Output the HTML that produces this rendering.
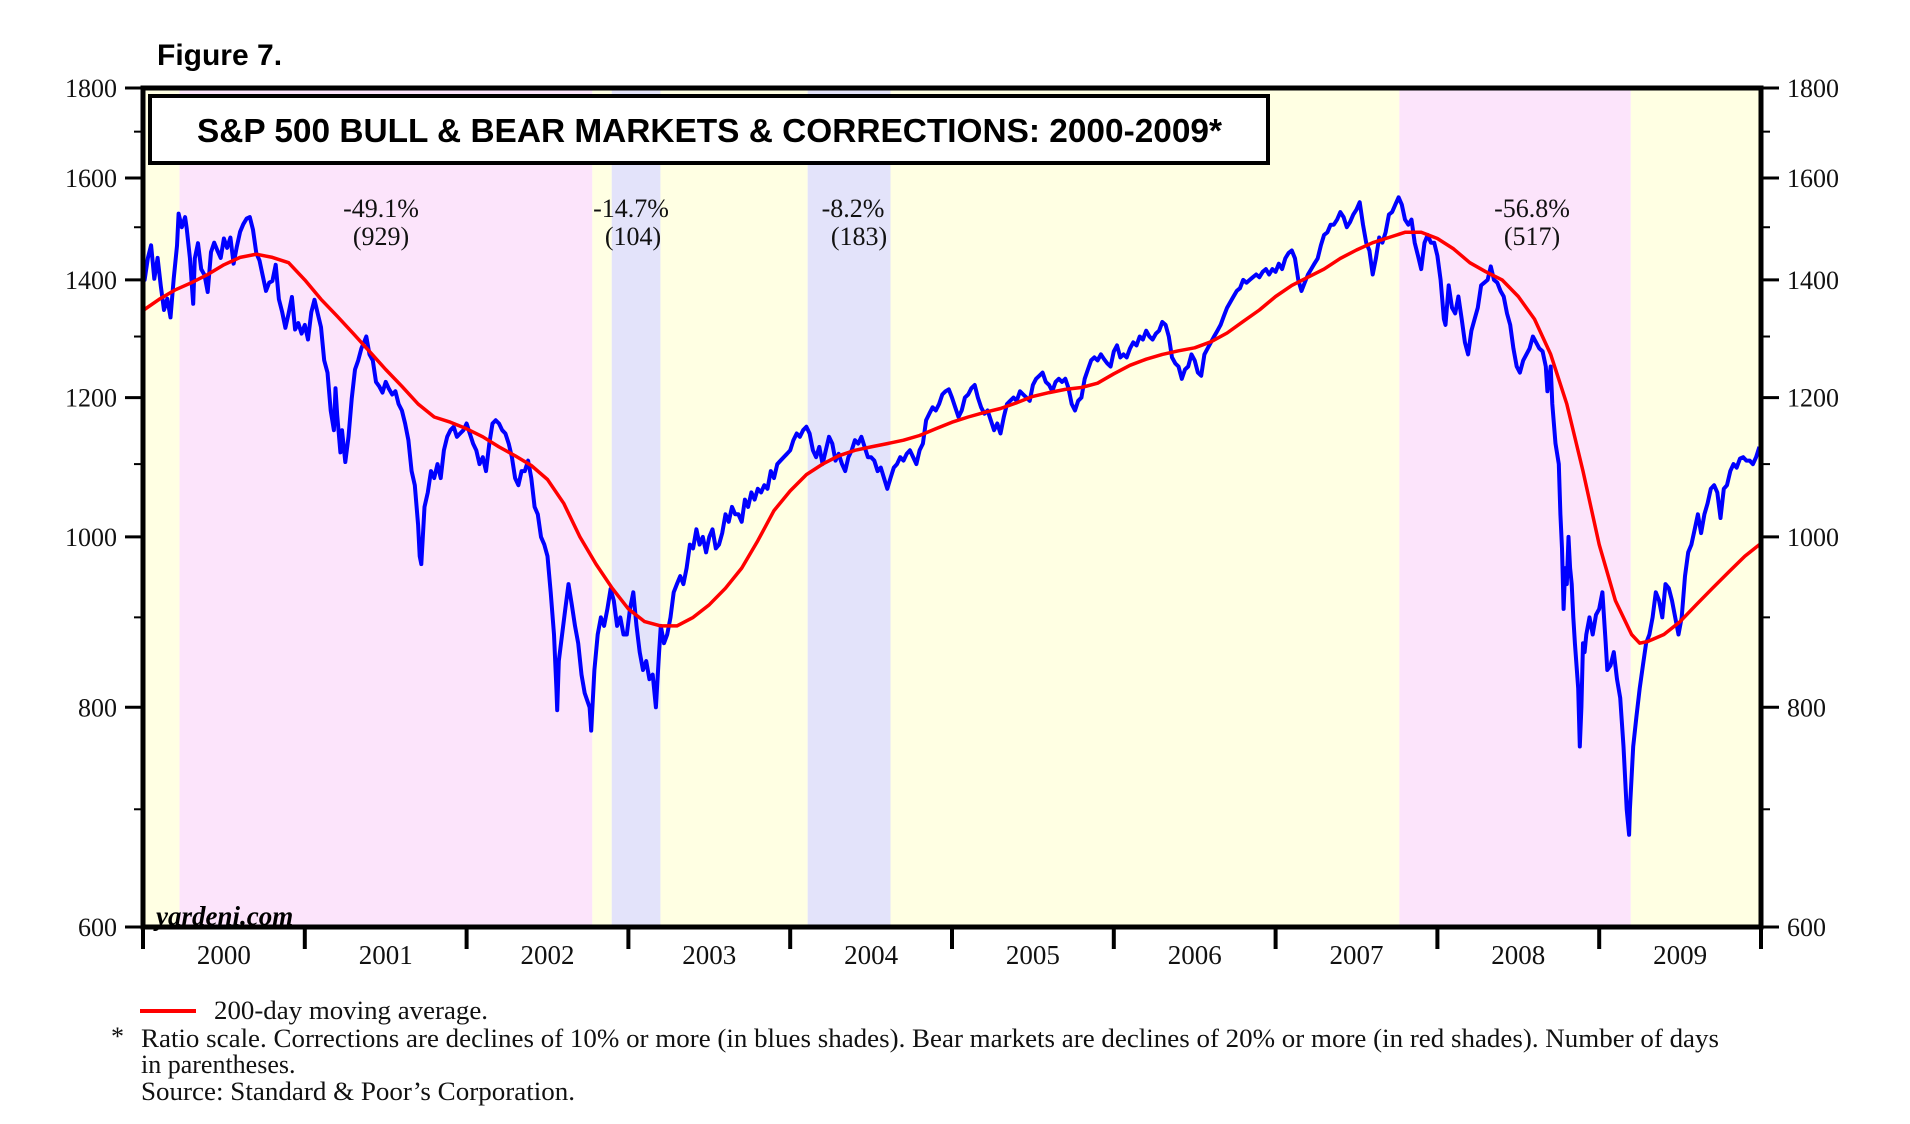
<!DOCTYPE html>
<html><head><meta charset="utf-8"><style>
html,body{margin:0;padding:0;background:#fff;}
svg{display:block;}
.ser{font-family:"Liberation Serif",serif;}
.san{font-family:"Liberation Sans",sans-serif;}
</style></head><body>
<svg id="chart" width="1910" height="1124" viewBox="0 0 1910 1124" xmlns="http://www.w3.org/2000/svg">
<g id="bands"></g>
<g id="ticks"></g>
<g id="lines"></g>
<rect x="150" y="96" width="1118" height="67" fill="#fff" stroke="#000" stroke-width="4"/>
<text x="197" y="142" class="san" font-weight="bold" font-size="33" textLength="1025" lengthAdjust="spacingAndGlyphs">S&amp;P 500 BULL &amp; BEAR MARKETS &amp; CORRECTIONS: 2000-2009*</text>
<text x="157" y="65" class="san" font-weight="bold" font-size="30">Figure 7.</text>
<g class="ser" font-size="26" text-anchor="middle" fill="#111">
<text x="381" y="217">-49.1%</text>
<text x="381" y="245">(929)</text>
<text x="631" y="217">-14.7%</text>
<text x="633" y="245">(104)</text>
<text x="853" y="217">-8.2%</text>
<text x="859" y="245">(183)</text>
<text x="1532" y="217">-56.8%</text>
<text x="1532" y="245">(517)</text>
</g>
<text x="156" y="925" class="ser" font-size="27" font-weight="bold" font-style="italic">yardeni.com</text>
<line x1="140" y1="1011" x2="196" y2="1011" stroke="#f00" stroke-width="4"/>
<g class="ser" font-size="26" fill="#111">
<text x="214" y="1019" textLength="274" lengthAdjust="spacingAndGlyphs">200-day moving average.</text>
<text x="111" y="1045">*</text>
<text x="141" y="1047" textLength="1578" lengthAdjust="spacingAndGlyphs">Ratio scale. Corrections are declines of 10% or more (in blues shades). Bear markets are declines of 20% or more (in red shades). Number of days</text>
<text x="141" y="1073">in parentheses.</text>
<text x="141" y="1100" textLength="434" lengthAdjust="spacingAndGlyphs">Source: Standard &amp; Poor’s Corporation.</text>
</g>
</svg>
<script>
const bandStarts=[2000.0,2000.226,2002.777,2002.897,2003.198,2004.108,2004.62,2007.765,2009.195];
const bandEnds=[2000.226,2002.777,2002.897,2003.198,2004.108,2004.62,2007.765,2009.195,2010.0];
const bandKinds=['bull','bear','bull','correction','bull','correction','bull','bear','bull'];
const yTicks=[600,800,1000,1200,1400,1600,1800];
const yMinor=[700,900,1100,1300,1500,1700];
const years=[2000,2001,2002,2003,2004,2005,2006,2007,2008,2009];
const spxT=[2000.00,2000.01,2000.03,2000.05,2000.07,2000.09,2000.11,2000.13,2000.15,2000.17,2000.19,2000.21,2000.22,2000.24,2000.26,2000.27,2000.29,2000.31,2000.32,2000.34,2000.36,2000.38,2000.40,2000.42,2000.44,2000.46,2000.48,2000.50,2000.52,2000.54,2000.56,2000.58,2000.60,2000.62,2000.64,2000.66,2000.68,2000.70,2000.72,2000.74,2000.76,2000.78,2000.80,2000.82,2000.84,2000.86,2000.88,2000.90,2000.92,2000.94,2000.96,2000.98,
2001.00,2001.02,2001.04,2001.06,2001.08,2001.10,2001.12,2001.14,2001.16,2001.18,2001.19,2001.20,2001.22,2001.23,2001.25,2001.27,2001.29,2001.31,2001.33,2001.35,2001.37,2001.38,2001.40,2001.42,2001.44,2001.46,2001.48,2001.50,2001.52,2001.54,2001.56,2001.58,2001.60,2001.62,2001.64,2001.66,2001.68,2001.70,2001.71,2001.72,2001.74,2001.76,2001.78,2001.80,2001.82,2001.84,2001.86,2001.88,2001.90,2001.92,2001.94,2001.96,2001.98,
2002.00,2002.02,2002.04,2002.06,2002.08,2002.10,2002.12,2002.14,2002.16,2002.18,2002.20,2002.22,2002.24,2002.26,2002.28,2002.30,2002.32,2002.34,2002.36,2002.38,2002.40,2002.42,2002.44,2002.46,2002.48,2002.50,2002.52,2002.54,2002.555,2002.56,2002.57,2002.59,2002.61,2002.63,2002.65,2002.67,2002.69,2002.71,2002.73,2002.76,2002.77,2002.79,2002.81,2002.83,2002.85,2002.87,2002.89,2002.91,2002.93,2002.95,2002.97,2002.99,
2003.01,2003.03,2003.05,2003.07,2003.09,2003.11,2003.13,2003.15,2003.17,2003.19,2003.20,2003.22,2003.24,2003.26,2003.28,2003.30,2003.32,2003.34,2003.36,2003.38,2003.40,2003.42,2003.44,2003.46,2003.48,2003.50,2003.52,2003.54,2003.56,2003.58,2003.60,2003.62,2003.64,2003.66,2003.68,2003.70,2003.72,2003.74,2003.76,2003.78,2003.80,2003.82,2003.84,2003.86,2003.88,2003.90,2003.92,2003.94,2003.96,2003.98,
2004.00,2004.02,2004.04,2004.06,2004.08,2004.10,2004.12,2004.14,2004.16,2004.18,2004.20,2004.22,2004.24,2004.26,2004.28,2004.30,2004.32,2004.34,2004.36,2004.38,2004.40,2004.42,2004.44,2004.46,2004.48,2004.50,2004.52,2004.54,2004.56,2004.58,2004.60,2004.62,2004.64,2004.66,2004.68,2004.70,2004.72,2004.74,2004.76,2004.78,2004.80,2004.82,2004.84,2004.86,2004.88,2004.90,2004.92,2004.94,2004.96,2004.98,
2005.00,2005.02,2005.04,2005.06,2005.08,2005.10,2005.12,2005.14,2005.16,2005.18,2005.20,2005.22,2005.24,2005.26,2005.28,2005.30,2005.32,2005.34,2005.36,2005.38,2005.40,2005.42,2005.44,2005.46,2005.48,2005.50,2005.52,2005.54,2005.56,2005.58,2005.60,2005.62,2005.64,2005.66,2005.68,2005.70,2005.72,2005.74,2005.76,2005.78,2005.80,2005.82,2005.84,2005.86,2005.88,2005.90,2005.92,2005.94,2005.96,2005.98,
2006.00,2006.02,2006.04,2006.06,2006.08,2006.10,2006.12,2006.14,2006.16,2006.18,2006.20,2006.22,2006.24,2006.26,2006.28,2006.30,2006.32,2006.34,2006.36,2006.38,2006.40,2006.42,2006.44,2006.46,2006.48,2006.50,2006.52,2006.54,2006.56,2006.58,2006.60,2006.62,2006.64,2006.66,2006.68,2006.70,2006.72,2006.74,2006.76,2006.78,2006.80,2006.82,2006.84,2006.86,2006.88,2006.90,2006.92,2006.94,2006.96,2006.98,
2007.00,2007.02,2007.04,2007.06,2007.08,2007.10,2007.12,2007.14,2007.16,2007.18,2007.20,2007.22,2007.24,2007.26,2007.28,2007.30,2007.32,2007.34,2007.36,2007.38,2007.40,2007.42,2007.44,2007.46,2007.48,2007.50,2007.52,2007.54,2007.56,2007.58,2007.60,2007.62,2007.64,2007.66,2007.68,2007.70,2007.72,2007.74,2007.76,2007.78,2007.80,2007.82,2007.84,2007.86,2007.88,2007.90,2007.92,2007.94,2007.96,2007.98,
2008.00,2008.02,2008.04,2008.05,2008.07,2008.09,2008.11,2008.13,2008.15,2008.17,2008.19,2008.21,2008.23,2008.25,2008.27,2008.29,2008.31,2008.33,2008.35,2008.37,2008.39,2008.41,2008.43,2008.45,2008.47,2008.49,2008.51,2008.53,2008.55,2008.57,2008.59,2008.61,2008.63,2008.65,2008.67,2008.68,2008.70,2008.71,2008.73,2008.75,2008.76,2008.77,2008.78,2008.79,2008.80,2008.81,2008.82,2008.83,2008.84,2008.85,2008.87,2008.88,2008.89,2008.90,2008.91,2008.92,2008.94,2008.96,2008.98,
2009.00,2009.02,2009.04,2009.05,2009.07,2009.09,2009.11,2009.13,2009.15,2009.17,2009.185,2009.19,2009.21,2009.23,2009.25,2009.27,2009.29,2009.31,2009.33,2009.35,2009.37,2009.39,2009.41,2009.43,2009.45,2009.47,2009.49,2009.51,2009.53,2009.55,2009.57,2009.59,2009.61,2009.63,2009.65,2009.67,2009.69,2009.71,2009.73,2009.75,2009.77,2009.79,2009.81,2009.83,2009.85,2009.87,2009.89,2009.91,2009.93,2009.95,2009.97,2009.99];
const spxV=[1455,1400,1441,1465,1402,1441,1389,1346,1366,1333,1402,1464,1527,1500,1520,1498,1441,1357,1440,1469,1420,1409,1378,1452,1470,1455,1441,1478,1460,1480,1430,1462,1491,1506,1517,1520,1495,1450,1436,1408,1380,1395,1398,1428,1365,1343,1315,1340,1369,1312,1323,1305,
1320,1295,1342,1364,1340,1316,1260,1240,1180,1150,1215,1173,1117,1150,1103,1140,1198,1245,1260,1280,1293,1300,1270,1260,1225,1218,1208,1225,1214,1205,1210,1190,1180,1160,1135,1090,1070,1016,975,965,1040,1060,1090,1080,1100,1080,1120,1140,1150,1155,1140,1145,1150,
1160,1145,1130,1120,1100,1110,1090,1130,1160,1165,1160,1150,1145,1130,1110,1080,1070,1090,1090,1105,1080,1040,1030,1000,990,975,930,880,820,797,850,880,910,940,915,890,870,835,815,800,776,840,880,900,890,910,934,920,890,900,880,880,
910,930,890,860,840,850,830,835,800,860,890,870,880,900,930,940,950,940,960,990,985,1010,990,1000,980,1000,1010,985,990,1005,1030,1020,1040,1030,1030,1020,1050,1040,1060,1050,1065,1060,1070,1065,1090,1080,1100,1105,1110,1115,
1120,1135,1145,1140,1150,1155,1145,1120,1110,1125,1100,1120,1140,1130,1105,1115,1100,1090,1110,1120,1135,1130,1140,1125,1110,1110,1105,1090,1095,1080,1065,1080,1095,1100,1110,1105,1115,1120,1110,1100,1120,1130,1165,1175,1185,1180,1190,1205,1210,1213,
1200,1185,1170,1180,1200,1205,1215,1220,1200,1185,1175,1180,1165,1150,1160,1145,1170,1190,1195,1200,1195,1210,1205,1200,1195,1220,1230,1235,1240,1225,1220,1210,1225,1230,1225,1230,1215,1190,1180,1195,1200,1230,1245,1260,1265,1260,1270,1262,1255,1250,
1275,1285,1265,1270,1265,1280,1290,1285,1300,1295,1310,1300,1295,1305,1310,1325,1320,1300,1265,1255,1250,1230,1245,1250,1270,1260,1240,1235,1270,1280,1290,1300,1310,1320,1335,1350,1360,1370,1380,1385,1400,1395,1400,1405,1410,1405,1415,1420,1410,1420,
1415,1430,1420,1440,1450,1455,1440,1400,1380,1395,1410,1420,1430,1440,1465,1485,1490,1505,1505,1515,1530,1520,1500,1510,1525,1535,1550,1505,1470,1455,1410,1440,1480,1470,1490,1525,1530,1545,1560,1545,1515,1505,1515,1470,1445,1420,1470,1485,1470,1470,
1445,1400,1330,1320,1390,1350,1340,1370,1330,1290,1270,1310,1330,1350,1390,1395,1400,1425,1400,1395,1380,1370,1340,1320,1280,1250,1240,1260,1270,1280,1300,1290,1280,1275,1250,1210,1250,1190,1130,1100,1030,985,910,960,940,1000,960,940,900,870,820,760,800,870,860,880,900,880,903,
910,930,870,840,845,860,830,810,760,700,677,700,760,790,820,845,870,880,900,930,920,900,940,935,920,900,880,900,950,980,990,1010,1030,1005,1030,1045,1065,1070,1060,1025,1065,1070,1090,1100,1095,1108,1110,1105,1105,1100,1110,1125];
const maT=[2000.0,2000.1,2000.2,2000.3,2000.4,2000.5,2000.6,2000.7,2000.8,2000.9,2001.0,2001.1,2001.2,2001.3,2001.4,2001.5,2001.6,2001.7,2001.8,2001.9,2002.0,2002.1,2002.2,2002.3,2002.4,2002.5,2002.6,2002.7,2002.8,2002.9,2003.0,2003.1,2003.2,2003.3,2003.4,2003.5,2003.6,2003.7,2003.8,2003.9,2004.0,2004.1,2004.2,2004.3,2004.4,2004.5,2004.6,2004.7,2004.8,2004.9,2005.0,2005.1,2005.2,2005.3,2005.4,2005.5,2005.6,2005.7,2005.8,2005.9,2006.0,2006.1,2006.2,2006.3,2006.4,2006.5,2006.6,2006.7,2006.8,2006.9,2007.0,2007.1,2007.2,2007.3,2007.4,2007.5,2007.6,2007.7,2007.8,2007.9,2008.0,2008.1,2008.2,2008.3,2008.4,2008.5,2008.6,2008.7,2008.8,2008.9,2009.0,2009.1,2009.2,2009.25,2009.3,2009.4,2009.5,2009.6,2009.7,2009.8,2009.9,2009.99];
const maV=[1345,1365,1382,1395,1410,1428,1442,1448,1442,1432,1400,1365,1335,1305,1275,1245,1218,1190,1170,1162,1152,1140,1125,1112,1098,1078,1045,1000,965,935,910,895,890,890,900,915,935,960,995,1035,1062,1085,1100,1112,1120,1125,1130,1135,1142,1152,1162,1170,1177,1183,1192,1202,1208,1213,1216,1223,1238,1252,1262,1270,1276,1281,1291,1306,1326,1346,1370,1390,1405,1420,1440,1456,1470,1480,1490,1490,1478,1458,1432,1415,1400,1370,1330,1270,1190,1090,990,920,880,870,872,880,895,915,935,955,975,990];

const NS='http://www.w3.org/2000/svg';
const X0=143,X1=1761,Y0=88,Y1=927;
function xs(t){return X0+(t-2000)/10*(X1-X0);}
function ys(v){return Y1-Math.log(v/600)/Math.log(3)*(Y1-Y0);}
function mk(tag,attrs,parent){const e=document.createElementNS(NS,tag);for(const k in attrs)e.setAttribute(k,attrs[k]);parent.appendChild(e);return e;}
const bandsG=document.getElementById('bands'),ticksG=document.getElementById('ticks'),linesG=document.getElementById('lines');
const colors={bull:'#FFFFE3',bear:'#FCE4FB',correction:'#E3E3FA'};
for(let i=0;i<bandStarts.length;i++){
  const r=mk('rect',{x:xs(bandStarts[i]),y:Y0,width:xs(bandEnds[i])-xs(bandStarts[i]),height:Y1-Y0,fill:colors[bandKinds[i]]},bandsG);
  
  
}
for(const v of yTicks){
  const y=ys(v);
  const l1=mk('line',{x1:X0-18,y1:y,x2:X0,y2:y,stroke:'#000','stroke-width':3},ticksG);
  
  
  const l2=mk('line',{x1:X1,y1:y,x2:X1+18,y2:y,stroke:'#000','stroke-width':3},ticksG);
  
  
  const t1=mk('text',{x:X0-26,y:y+9,'text-anchor':'end','font-size':26,'font-family':'Liberation Serif, serif',fill:'#111'},ticksG);
  t1.textContent=v;
  
  
  const t2=mk('text',{x:X1+26,y:y+9,'font-size':26,'font-family':'Liberation Serif, serif',fill:'#111'},ticksG);
  t2.textContent=v;
  
  
}
for(const v of yMinor){
  const y=ys(v);
  const a=mk('line',{x1:X0-9,y1:y,x2:X0,y2:y,stroke:'#000','stroke-width':2},ticksG);
  
  
  const b=mk('line',{x1:X1,y1:y,x2:X1+9,y2:y,stroke:'#000','stroke-width':2},ticksG);
  
  
}
for(const yr of years.concat([2010])){
  const x=xs(yr);
  const l=mk('line',{x1:x,y1:Y1,x2:x,y2:Y1+22,stroke:'#000','stroke-width':4},ticksG);
  
  
}
for(const yr of years){
  const t=mk('text',{x:xs(yr+0.5),y:Y1+37,'text-anchor':'middle','font-size':27,'font-family':'Liberation Serif, serif',fill:'#111'},ticksG);
  t.textContent=yr;
  
  
}
function path(ts,vs){return ts.map((t,i)=>(i?'L':'M')+xs(t).toFixed(1)+' '+ys(vs[i]).toFixed(1)).join(' ');}
const spx=mk('path',{d:path(spxT,spxV),fill:'none',stroke:'#0000FF','stroke-width':4,'stroke-linejoin':'round'},linesG);


const ma=mk('path',{d:path(maT,maV),fill:'none',stroke:'#FF0000','stroke-width':3.5,'stroke-linejoin':'round'},linesG);


const frame=mk('rect',{x:X0,y:Y0,width:X1-X0,height:Y1-Y0,fill:'none',stroke:'#000','stroke-width':5},linesG);


</script>
</body></html>
